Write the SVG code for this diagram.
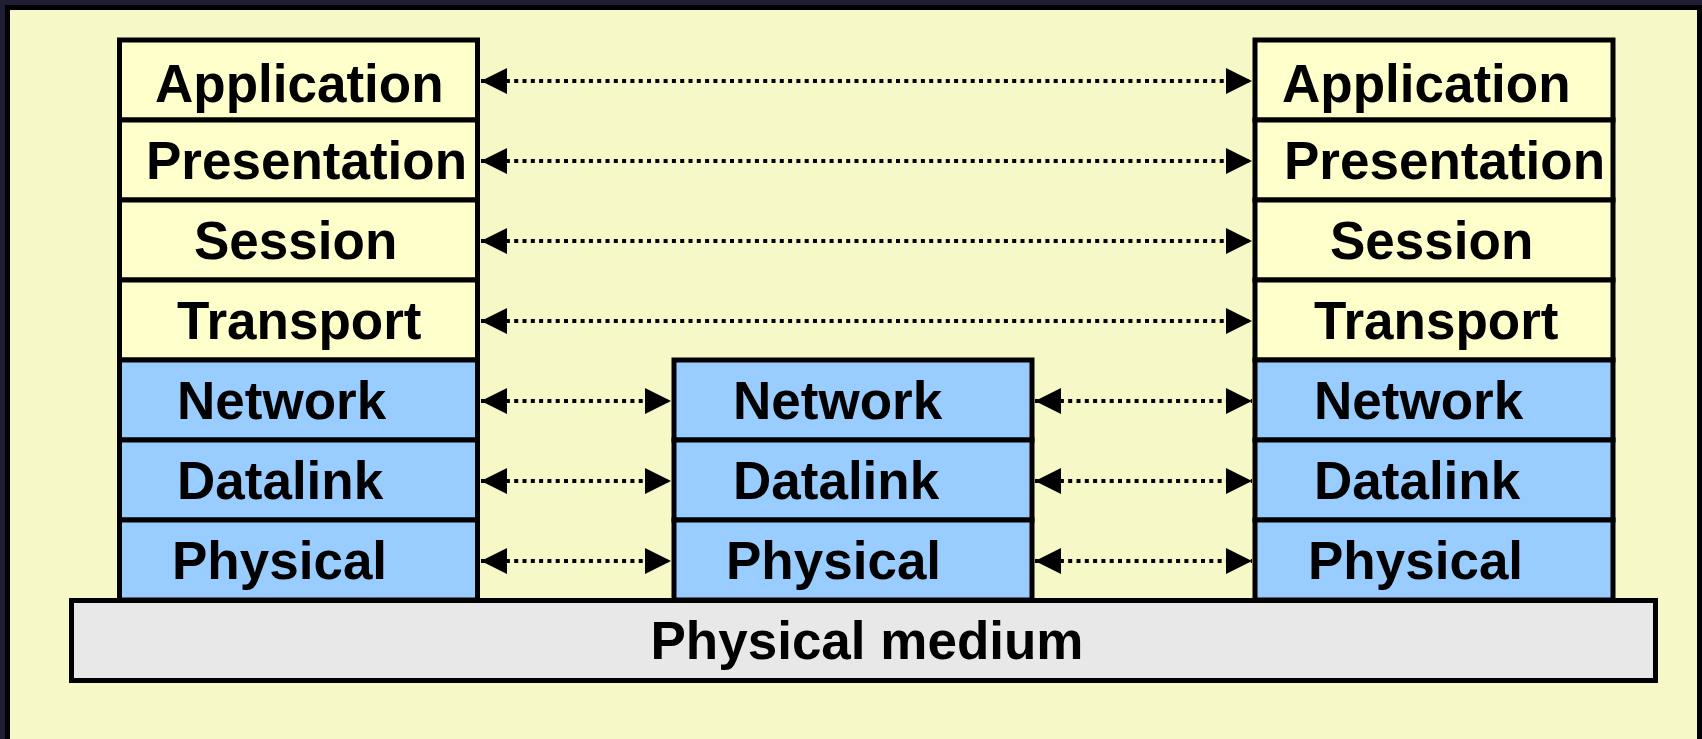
<svg xmlns="http://www.w3.org/2000/svg" width="1702" height="739" viewBox="0 0 1702 739">
<defs>
<style>
.box{stroke:#000;stroke-width:5}
.up{fill:#FFFFCC}
.lo{fill:#99CCFF}
.med{fill:#E8E8E8}
.t{font-family:"Liberation Sans",Arial,sans-serif;font-weight:bold;font-size:53px;fill:#000}
.c{stroke:#000;stroke-width:4;stroke-dasharray:4 4.3;fill:none;marker-start:url(#ah);marker-end:url(#ah)}
</style>
<marker id="ah" markerUnits="userSpaceOnUse" markerWidth="26" markerHeight="26" refX="26" refY="13" orient="auto-start-reverse" viewBox="0 0 26 26">
<path d="M0,0 L26,13 L0,26 Z" fill="#000"/>
</marker>
</defs>
<rect x="0" y="0" width="1702" height="739" fill="#1f1d33"/>
<rect x="7.5" y="7.5" width="1692" height="740" fill="#F7F8C8" stroke="#000" stroke-width="5"/>

<g id="connectors">
<line class="c" x1="481" y1="81" x2="1252" y2="81"/>
<line class="c" x1="481" y1="161" x2="1252" y2="161"/>
<line class="c" x1="481" y1="241" x2="1252" y2="241"/>
<line class="c" x1="481" y1="321" x2="1252" y2="321"/>
<line class="c" x1="481" y1="401" x2="671" y2="401"/>
<line class="c" x1="481" y1="481" x2="671" y2="481"/>
<line class="c" x1="481" y1="561" x2="671" y2="561"/>
<line class="c" x1="1035" y1="401" x2="1252" y2="401"/>
<line class="c" x1="1035" y1="481" x2="1252" y2="481"/>
<line class="c" x1="1035" y1="561" x2="1252" y2="561"/>
</g>

<g id="left-application"><rect class="box up" x="119.5" y="40" width="358" height="80"/><text class="t" x="155" y="102">Application</text></g>
<g id="left-presentation"><rect class="box up" x="119.5" y="120" width="358" height="80"/><text class="t" x="146" y="179">Presentation</text></g>
<g id="left-session"><rect class="box up" x="119.5" y="200" width="358" height="80"/><text class="t" x="194" y="259">Session</text></g>
<g id="left-transport"><rect class="box up" x="119.5" y="280" width="358" height="80"/><text class="t" x="177" y="339">Transport</text></g>
<g id="left-network"><rect class="box lo" x="119.5" y="360" width="358" height="80"/><text class="t" x="177" y="419">Network</text></g>
<g id="left-datalink"><rect class="box lo" x="119.5" y="440" width="358" height="80"/><text class="t" x="177" y="499">Datalink</text></g>
<g id="left-physical"><rect class="box lo" x="119.5" y="520" width="358" height="80"/><text class="t" x="172" y="579">Physical</text></g>

<g id="mid-network"><rect class="box lo" x="674" y="360" width="358" height="80"/><text class="t" x="733" y="419">Network</text></g>
<g id="mid-datalink"><rect class="box lo" x="674" y="440" width="358" height="80"/><text class="t" x="733" y="499">Datalink</text></g>
<g id="mid-physical"><rect class="box lo" x="674" y="520" width="358" height="80"/><text class="t" x="726" y="579">Physical</text></g>

<g id="right-application"><rect class="box up" x="1255" y="40" width="358" height="80"/><text class="t" x="1282" y="102">Application</text></g>
<g id="right-presentation"><rect class="box up" x="1255" y="120" width="358" height="80"/><text class="t" x="1284" y="179">Presentation</text></g>
<g id="right-session"><rect class="box up" x="1255" y="200" width="358" height="80"/><text class="t" x="1330" y="259">Session</text></g>
<g id="right-transport"><rect class="box up" x="1255" y="280" width="358" height="80"/><text class="t" x="1314" y="339">Transport</text></g>
<g id="right-network"><rect class="box lo" x="1255" y="360" width="358" height="80"/><text class="t" x="1314" y="419">Network</text></g>
<g id="right-datalink"><rect class="box lo" x="1255" y="440" width="358" height="80"/><text class="t" x="1314" y="499">Datalink</text></g>
<g id="right-physical"><rect class="box lo" x="1255" y="520" width="358" height="80"/><text class="t" x="1308" y="579">Physical</text></g>

<g id="physical-medium"><rect class="box med" x="71.5" y="600.5" width="1584" height="80"/><text class="t" x="867" y="659" text-anchor="middle">Physical medium</text></g>
</svg>
